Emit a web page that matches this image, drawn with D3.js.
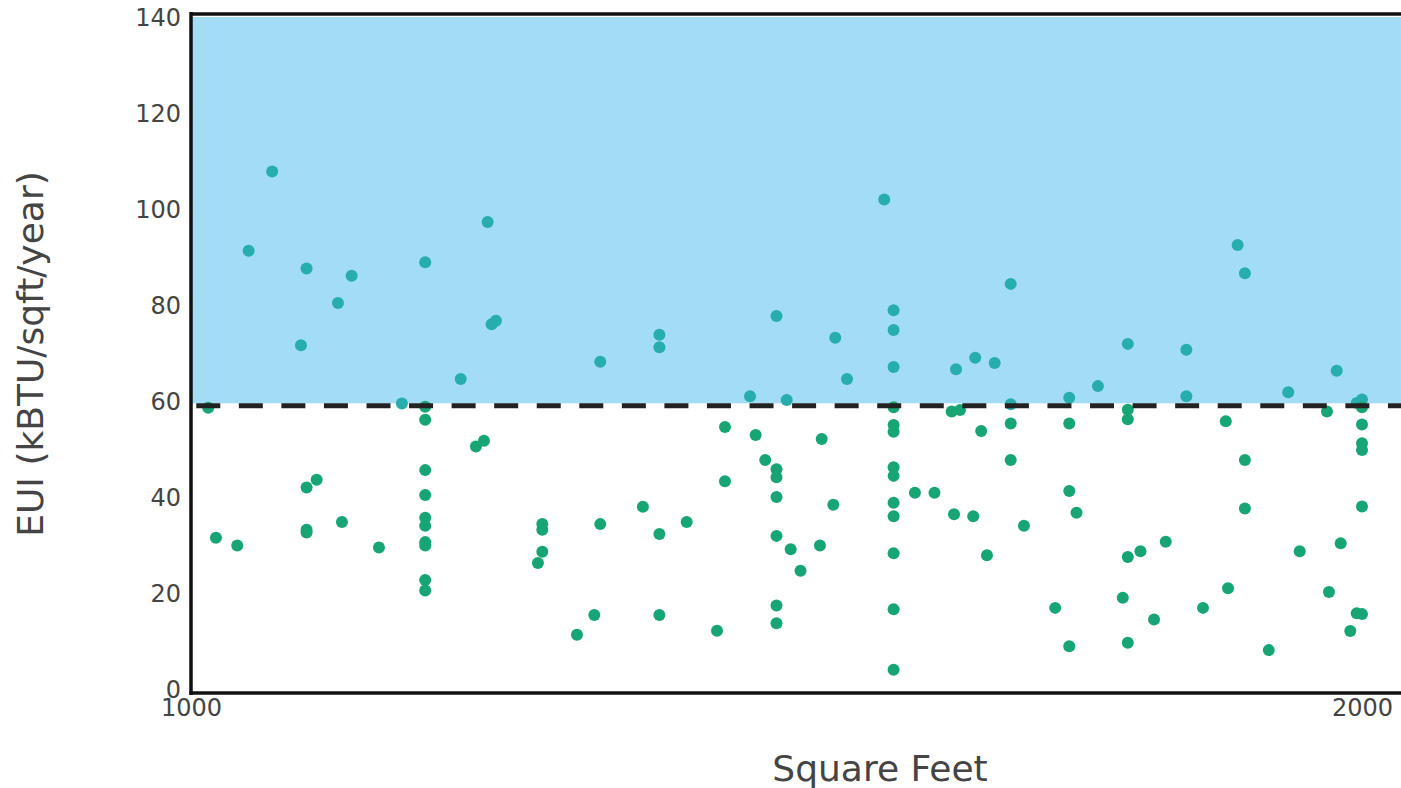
<!DOCTYPE html>
<html>
<head>
<meta charset="utf-8">
<script src="https://cdn.jsdelivr.net/npm/d3@7"></script>
<style>
  body { margin: 0; background: #fff; }
  text { font-family: "DejaVu Sans", Verdana, sans-serif; fill: #444; }
</style>
</head>
<body>
<div id="app"></div>
<script>
// data
var sqft = [1014.7, 1021.3, 1039.5, 1049.2, 1069.3, 1093.9, 1098.7, 1098.7, 1098.7, 1098.7,
	1107.3, 1125.5, 1128.9, 1137.2, 1160.5, 1180.1,
	1200, 1200, 1200, 1200, 1200, 1200, 1200, 1200, 1200, 1200, 1200,
	1230.3, 1243.3, 1250.2, 1253.3, 1256.7, 1260.4, 1296.3, 1300, 1300, 1300,
	1329.6, 1344.4, 1349.5, 1349.5, 1385.9, 1400, 1400, 1400, 1400,
	1423.3, 1449.2, 1456.0, 1456.0, 1477.4, 1482.2, 1490.4,
	1500, 1500, 1500, 1500, 1500, 1500, 1500,
	1508.7, 1512.1, 1520.5, 1537.1, 1538.6, 1548.5, 1550.2, 1560.2, 1592.0,
	1600, 1600, 1600, 1600, 1600, 1600, 1600, 1600, 1600, 1600, 1600, 1600, 1600,
	1618.2, 1634.9, 1649.6, 1656.7, 1651.6, 1653.3, 1668.0, 1669.7, 1674.8, 1679.7, 1686.3,
	1700, 1700, 1700, 1700, 1711.3, 1738.0, 1750, 1750, 1750, 1750, 1756.2, 1774.5, 1795.7,
	1800, 1800, 1800, 1800, 1800, 1810.8, 1822.4, 1832.4, 1850, 1850,
	1864.2, 1883.7, 1885.6, 1893.8, 1900, 1900, 1900, 1920.4, 1937.0, 1946.8,
	1970.1, 1971.8, 1978.4, 1981.8, 1990.0, 1995.5, 1995.5,
	2000, 2000, 2000, 2000, 2000, 2000, 2000];

var eui = [58.6, 31.5, 29.9, 91.3, 107.8, 71.6, 87.6, 42.0, 33.2, 32.6,
	43.6, 80.4, 34.8, 86.1, 29.5, 59.5,
	88.9, 58.8, 56.1, 45.6, 40.4, 35.7, 34.0, 30.6, 29.9, 22.7, 20.5,
	64.6, 50.5, 51.7, 97.3, 76.0, 76.7, 26.25, 34.4, 33.2, 28.6,
	11.3, 15.4, 68.2, 34.35, 37.95, 73.8, 71.2, 32.3, 15.4,
	34.8, 12.15, 54.6, 43.3, 61.0, 52.9, 47.7,
	77.7, 45.8, 44.1, 40.0, 31.9, 17.4, 13.7,
	60.2, 29.1, 24.65, 29.9, 52.1, 38.4, 73.2, 64.6, 102.0,
	78.9, 74.8, 67.1, 58.7, 55.0, 53.6, 46.2, 44.4, 38.8, 36.0, 28.3, 16.6, 4.0,
	40.9, 40.9, 57.8, 58.1, 36.4, 66.6, 36.0, 69.0, 53.75, 27.85, 67.9,
	84.4, 59.3, 55.3, 47.7, 34.0, 16.9, 60.7, 55.3, 41.25, 8.9, 36.7, 63.1, 19.0,
	71.9, 58.2, 56.2, 27.5, 9.65, 28.7, 14.5, 30.7, 70.7, 61.0,
	16.9, 55.8, 21.0, 92.5, 86.6, 47.7, 37.6, 8.1, 61.8, 28.7,
	57.8, 20.2, 66.3, 30.35, 12.1, 59.6, 15.8,
	60.3, 58.7, 55.1, 51.2, 49.8, 38.0, 15.6];

var threshold = 59;
var yTicks = [0, 20, 40, 60, 80, 100, 120, 140];
var xTicks = [1000, 2000];
var xTitle = "Square Feet";
var yTitle = "EUI (kBTU/sqft/year)";

var points = sqft.map(function(s, i) { return {sqft: s, eui: eui[i]}; });

// layout
var width = 1401, height = 788;
var plotLeft = 191, plotTop = 17, plotBottom = 689, plotRight = 1420;

var svg = d3.select("#app")
	.append("svg")
	.attr("width", width)
	.attr("height", height);

var x = d3.scaleLinear()
	.domain([1000, 2000])
	.range([plotLeft, 1362]);

var y = d3.scaleLinear()
	.domain([0, 140])
	.range([plotBottom, plotTop]);

// shaded area above the threshold
svg.append("rect")
	.attr("x", plotLeft)
	.attr("y", y(140))
	.attr("width", plotRight - plotLeft)
	.attr("height", y(threshold) - 2.5 - y(140))
	.attr("fill", "#a3dcf5");

// points
svg.append("g")
	.selectAll("circle")
	.data(points)
	.join("circle")
	.attr("cx", function(d) { return x(d.sqft); })
	.attr("cy", function(d) { return y(d.eui); })
	.attr("r", 6)
	.attr("fill", function(d) { return d.eui > threshold ? "#27adac" : "#18a574"; });

// threshold line
svg.append("line")
	.attr("x1", plotLeft)
	.attr("x2", plotRight)
	.attr("y1", y(threshold))
	.attr("y2", y(threshold))
	.attr("stroke", "#222")
	.attr("stroke-width", 5)
	.attr("stroke-dasharray", "24 18.56")
	.attr("stroke-dashoffset", 37.3);

// frame
svg.append("line").attr("x1", plotLeft).attr("x2", plotRight).attr("y1", 14).attr("y2", 14)
	.attr("stroke", "#111").attr("stroke-width", 3.5);
svg.append("line").attr("x1", plotLeft - 1.5).attr("x2", plotRight).attr("y1", 693).attr("y2", 693)
	.attr("stroke", "#111").attr("stroke-width", 3.5);
svg.append("line").attr("x1", plotLeft).attr("x2", plotLeft).attr("y1", 12).attr("y2", 695)
	.attr("stroke", "#111").attr("stroke-width", 3.5);

// y axis labels
var yAxis = svg.append("g")
	.attr("transform", "translate(" + (plotLeft - 10) + ",0)")
	.call(d3.axisLeft(y).tickValues(yTicks).tickSize(0).tickPadding(0));
yAxis.select(".domain").remove();
yAxis.selectAll("text")
	.attr("dy", "0.32em")
	.attr("y", 0.5)
	.style("font-size", "24px")
	.style("font-family", "'DejaVu Sans', Verdana, sans-serif")
	.attr("fill", "#444");

// x axis labels
var xAxis = svg.append("g")
	.attr("transform", "translate(0," + 699 + ")")
	.call(d3.axisBottom(x).tickValues(xTicks).tickFormat(d3.format("d")).tickSize(0).tickPadding(0));
xAxis.select(".domain").remove();
xAxis.selectAll("text")
	.attr("dy", "0.71em")
	.style("font-size", "24px")
	.style("font-family", "'DejaVu Sans', Verdana, sans-serif")
	.attr("fill", "#444");

// titles
svg.append("text")
	.attr("x", 880)
	.attr("y", 768)
	.attr("dy", "0.35em")
	.attr("text-anchor", "middle")
	.style("font-size", "36px")
	.text(xTitle);

svg.append("text")
	.attr("transform", "translate(30,354)rotate(-90)")
	.attr("dy", "0.35em")
	.attr("text-anchor", "middle")
	.style("font-size", "36px")
	.text(yTitle);
</script>
</body>
</html>
